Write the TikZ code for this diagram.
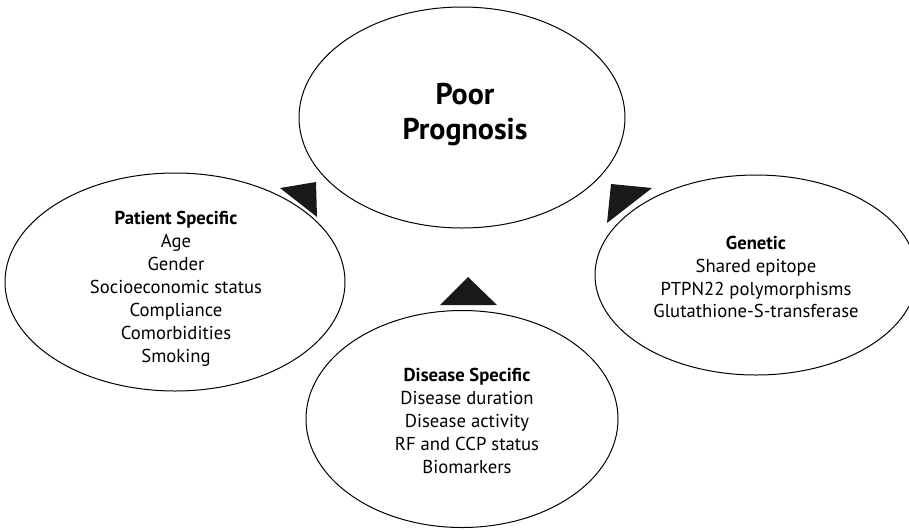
\documentclass[tikz,border=0pt]{standalone}
\usepackage{fontspec}
\setmainfont{PT Sans}
\usetikzlibrary{shapes.geometric}
\tikzset{every picture/.style={line width=0.75pt}}
\tikzset{
  bubble/.style={ellipse, draw, inner sep=0pt},
  pointer/.style={fill=black!90},
  itemtext/.style={align=center, inner sep=0.75pt, font=\fontsize{14}{17.2}\selectfont}
}

\begin{document}
\begin{tikzpicture}[x=0.75pt,y=0.75pt,yscale=-1,xscale=1]
\clip (0,0) rectangle (909,529);

%Shape: Ellipse [centre]
\draw (462,117.5) node [bubble, minimum width=244.5pt, minimum height=165.75pt] (prognosis) {};
%Shape: Ellipse [left]
\draw (175,282) node [bubble, minimum width=255pt, minimum height=163.5pt] (patient) {};
%Shape: Ellipse [right]
\draw (756,275) node [bubble, minimum width=241.5pt, minimum height=150pt] (genetic) {};
%Shape: Ellipse [bottom]
\draw (462,419) node [bubble, minimum width=234pt, minimum height=162.75pt] (disease) {};

%Shape: Triangle [left]
\fill [pointer] (280,188) -- (316,182) -- (317,217) -- cycle;
%Shape: Triangle [right]
\fill [pointer] (611,184) -- (652,188) -- (607,223) -- cycle;
%Shape: Triangle [bottom]
\fill [pointer] (468,277) -- (440,305) -- (497,305) -- cycle;

\draw (465,115) node [align=center, inner sep=0.75pt, font=\fontsize{22.5}{26.25}\selectfont\bfseries] (prognosislabel) {Poor\\Prognosis};

\draw (176,289) node [itemtext] (patientlabel) {\textbf{Patient Specific}\\Age\\Gender\\Socioeconomic status\\Compliance\\Comorbidities\\Smoking};

\draw (756,277) node [itemtext] (geneticlabel) {\textbf{Genetic}\\Shared epitope\\PTPN22 polymorphisms\\Glutathione-S-transferase};

\draw (467,421) node [itemtext] (diseaselabel) {\textbf{Disease Specific}\\Disease duration\\Disease activity\\RF and CCP status\\Biomarkers};
\end{tikzpicture}
\end{document}
